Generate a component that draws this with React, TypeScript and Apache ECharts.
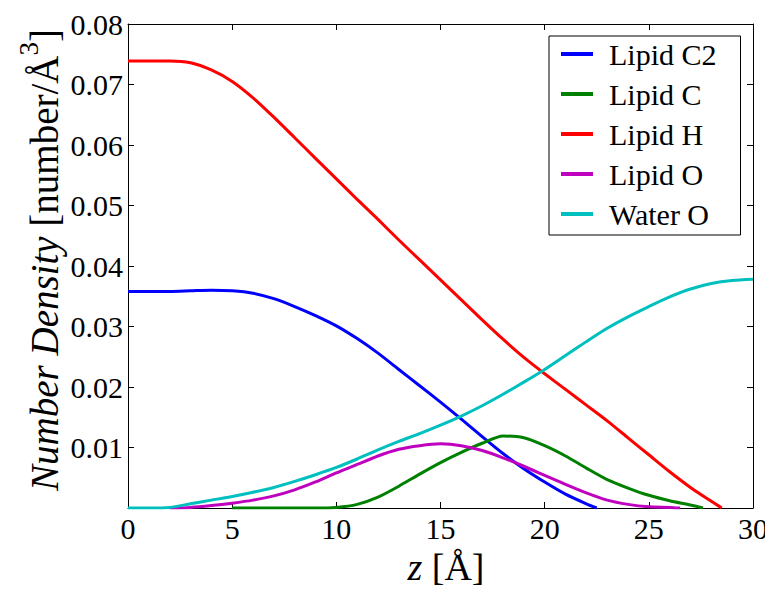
import React, { useEffect, useRef } from "react";
import * as echarts from "echarts";

const names = ["Lipid C2", "Lipid C", "Lipid H", "Lipid O", "Water O"];
const colors = ["#0000ff", "#008000", "#ff0000", "#bf00bf", "#00bfbf"];

const zC2 = [0, 1, 2, 3, 4, 5, 6, 7, 8, 9, 10, 11, 12, 13, 14, 15, 16, 17, 18, 19, 20, 21, 22, 22.5];
const vC2 = [0.0358, 0.0358, 0.0358, 0.0359, 0.036, 0.0359, 0.0355, 0.0346, 0.0333, 0.0318, 0.0301, 0.028, 0.0256, 0.0229, 0.0202, 0.0175, 0.0147, 0.0118, 0.009, 0.0065, 0.0043, 0.0023, 0.0007, 0];

const zC = [5, 6, 7, 8, 9, 10, 11, 12, 13, 14, 15, 16, 17, 18, 19, 20, 21, 22, 23, 24, 25, 26, 27, 27.6];
const vC = [0, 0, 0, 0, 0, 0.0001, 0.0006, 0.0018, 0.0036, 0.0056, 0.0075, 0.0092, 0.0107, 0.0119, 0.0116, 0.0103, 0.0086, 0.0066, 0.0047, 0.0033, 0.0021, 0.0012, 0.0005, 0];

const zH = [0, 1, 2, 3, 4, 5, 6, 7, 8, 9, 10, 11, 12, 13, 14, 15, 16, 17, 18, 19, 20, 21, 22, 23, 24, 25, 26, 27, 28, 28.5];
const vH = [0.0739, 0.0739, 0.0739, 0.0736, 0.0724, 0.0705, 0.0678, 0.0646, 0.0612, 0.0578, 0.0544, 0.051, 0.0477, 0.0443, 0.041, 0.0377, 0.0344, 0.0311, 0.0279, 0.0249, 0.0222, 0.0196, 0.017, 0.0144, 0.0116, 0.0088, 0.006, 0.0034, 0.0011, 0];

const zO = [2, 3, 4, 5, 6, 7, 8, 9, 10, 11, 12, 13, 14, 15, 16, 17, 18, 19, 20, 21, 22, 23, 24, 25, 26, 26.5];
const vO = [0, 0.0001, 0.0004, 0.0008, 0.0013, 0.002, 0.003, 0.0043, 0.0058, 0.0072, 0.0086, 0.0097, 0.0103, 0.0106, 0.0103, 0.0095, 0.0083, 0.0069, 0.0054, 0.0039, 0.0025, 0.0013, 0.0006, 0.0002, 0.0001, 0];

const zW = [0, 1, 2, 3, 4, 5, 6, 7, 8, 9, 10, 11, 12, 13, 14, 15, 16, 17, 18, 19, 20, 21, 22, 23, 24, 25, 26, 27, 28, 29, 30];
const vW = [0, 0, 0.0001, 0.0007, 0.0013, 0.0019, 0.0026, 0.0034, 0.0044, 0.0055, 0.0067, 0.0081, 0.0096, 0.011, 0.0123, 0.0137, 0.0152, 0.0169, 0.0188, 0.0208, 0.0229, 0.0252, 0.0275, 0.0297, 0.0316, 0.0333, 0.0349, 0.0362, 0.0371, 0.0376, 0.0378];

const zSets = [zC2, zC, zH, zO, zW];
const vSets = [vC2, vC, vH, vO, vW];

const xTicks = { min: 0, max: 30, interval: 5 };
const yTicks = { min: 0, max: 0.08, interval: 0.01 };

const FONT = "Liberation Serif";

export default function App() {
  const ref = useRef<HTMLDivElement>(null);
  useEffect(() => {
    if (!ref.current) return;
    const chart = echarts.init(ref.current, null, { renderer: "svg" });
    const axisCommon = {
      axisLine: { show: true, onZero: false, lineStyle: { color: "#000", width: 1 } },
      axisTick: { show: true, inside: true, length: 6, lineStyle: { color: "#000", width: 1 } },
      splitLine: { show: false },
    };
    chart.setOption({
      animation: false,
      backgroundColor: "#fff",
      textStyle: { fontFamily: FONT },
      grid: { left: 128, right: 20, top: 24, bottom: 85, containLabel: false },
      xAxis: [
        {
          type: "value",
          ...xTicks,
          position: "bottom",
          ...axisCommon,
          axisLabel: { fontFamily: FONT, fontSize: 30, color: "#000", margin: 5 },
        },
        {
          type: "value",
          ...xTicks,
          position: "top",
          ...axisCommon,
          axisLabel: { show: false },
        },
      ],
      yAxis: [
        {
          type: "value",
          ...yTicks,
          position: "left",
          ...axisCommon,
          axisLabel: {
            fontFamily: FONT,
            fontSize: 30,
            color: "#000",
            margin: 5,
            formatter: (v: number) => (Math.abs(v) < 1e-9 ? "" : v.toFixed(2)),
          },
        },
        {
          type: "value",
          ...yTicks,
          position: "right",
          ...axisCommon,
          axisLabel: { show: false },
        },
      ],
      legend: {
        orient: "vertical",
        left: 549,
        top: 36,
        padding: [3, 24, 6, 12],
        itemWidth: 32,
        itemHeight: 4,
        itemGap: 10,
        icon: "rect",
        borderColor: "#000",
        borderWidth: 1,
        backgroundColor: "#fff",
        textStyle: { fontFamily: FONT, fontSize: 30, color: "#000", lineHeight: 30, padding: [0, 0, 0, 11] },
        data: names,
      },
      graphic: [
        {
          type: "text",
          x: 44,
          y: 260,
          rotation: Math.PI / 2,
          style: {
            text: "{i|Number Density} {n|[number/Å}{s|3}{n|]}",
            fontFamily: FONT,
            fontSize: 39,
            fill: "#000",
            align: "center",
            verticalAlign: "middle",
            rich: {
              i: { fontFamily: FONT, fontSize: 39, fontStyle: "italic" },
              n: { fontFamily: FONT, fontSize: 39 },
              s: { fontFamily: FONT, fontSize: 27, verticalAlign: "top", padding: [0, 0, 30, 0] },
            },
          },
        },
        {
          type: "text",
          x: 446,
          y: 567,
          style: {
            text: "{i|z} [Å]",
            fontFamily: FONT,
            fontSize: 38,
            fill: "#000",
            align: "center",
            verticalAlign: "middle",
            rich: {
              i: { fontFamily: FONT, fontSize: 38, fontStyle: "italic" },
            },
          },
        },
      ],
      series: names.map((n, i) => ({
        name: n,
        type: "line",
        xAxisIndex: 0,
        yAxisIndex: 0,
        showSymbol: false,
        symbol: "none",
        smooth: 0.25,
        color: colors[i],
        lineStyle: { color: colors[i], width: 3 },
        data: zSets[i].map((z, k) => [z, vSets[i][k]]),
      })),
    });
    return () => chart.dispose();
  }, []);
  return <div ref={ref} style={{ width: 773, height: 593, margin: -8 }} />;
}
